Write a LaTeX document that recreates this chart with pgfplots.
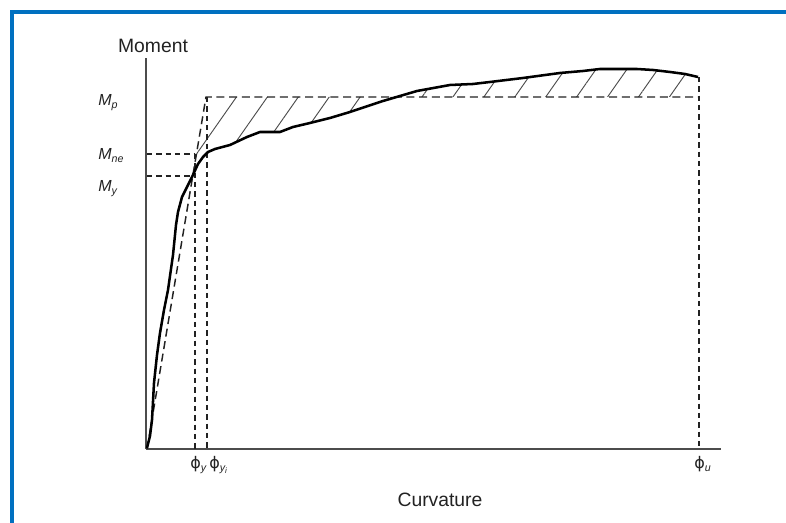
\documentclass[border=0pt]{standalone}
\usepackage{fontspec}
\setmainfont{Liberation Sans}
\newfontfamily\phifont{DejaVu Sans}
\usepackage{pgfplots}
\pgfplotsset{compat=1.18}
\usepgfplotslibrary{fillbetween}
\usetikzlibrary{patterns.meta}
\definecolor{frameblue}{HTML}{0070C0}
\definecolor{ink}{HTML}{222222}
\begin{document}
\begin{tikzpicture}
\begin{axis}[
  scale only axis, width=431.25pt, height=293.25pt,
  xmin=146, xmax=721, ymin=74, ymax=465,
  enlargelimits=false,
  axis x line=bottom, axis y line=left,
  axis line style={-, draw=black!70, line width=1.1pt},
  xtick=\empty, ytick=\empty,
  clip=false,
]
% hatched area between curve and bilinear idealisation
\addplot[name path=curve, draw=none, forget plot] coordinates {
(147,75)(150,87)(152,103)(154,140)(157,168)(160,190)(164,213)(168,233)
(173,268)(176,298)(178,311)(182,326)(187,336)(192,346)(198,359)(203,366)
(208,371)(215,374)(230,378)(247,386)(260,391)(280,391)(293,396)(310,400)
(330,405)(350,411)(383,422)(400,427)(417,432)(450,438)(473,439)(490,441)
(523,445)(560,450)(583,452)(600,454)(637,454)(653,453)(670,451)(685,449)(698,446)};
\addplot[name path=bilin, draw=none, forget plot] coordinates {(147,74)(206,426)(699,426)};
\addplot[pattern={Lines[angle=55,distance=19pt,line width=0.7pt]}, pattern color=black!70, draw=none]
  fill between[of=curve and bilin, soft clip={domain=193:699}];
% reference dashed lines
\addplot[ink, line width=1pt, dash pattern=on 4pt off 3pt] coordinates {(147,369)(195,369)};
\addplot[ink, line width=1pt, dash pattern=on 4pt off 3pt] coordinates {(147,347)(193,347)};
\addplot[ink, line width=1pt, dash pattern=on 4pt off 3pt] coordinates {(195,369)(195,74)};
\addplot[ink, line width=1pt, dash pattern=on 4pt off 3pt] coordinates {(207,426)(207,74)};
\addplot[ink, line width=1pt, dash pattern=on 4pt off 3pt] coordinates {(699,446)(699,74)};
% bilinear dashed
\addplot[ink, line width=1.1pt, dash pattern=on 6pt off 3.5pt] coordinates {(147,74)(206,426)(699,426)};
% moment-curvature curve
\addplot[black, line width=1.9pt, line join=round] coordinates {
(147,75)(150,87)(152,103)(154,140)(157,168)(160,190)(164,213)(168,233)
(173,268)(176,298)(178,311)(182,326)(187,336)(192,346)(198,359)(203,366)
(208,371)(215,374)(230,378)(247,386)(260,391)(280,391)(293,396)(310,400)
(330,405)(350,411)(383,422)(400,427)(417,432)(450,438)(473,439)(490,441)
(523,445)(560,450)(583,452)(600,454)(637,454)(653,453)(670,451)(685,449)(698,446)};
% labels
\node[text=ink, font=\fontsize{14.5}{17}\selectfont] at (axis cs:153,477) {Moment};
\node[text=ink, font=\fontsize{14.5}{17}\selectfont] at (axis cs:440,23) {Curvature};
\node[text=ink, anchor=base west, inner sep=0pt, font=\fontsize{12}{14}\selectfont\itshape] at (axis cs:98,417) {M\textsubscript{p}};
\node[text=ink, anchor=base west, inner sep=0pt, font=\fontsize{12}{14}\selectfont\itshape] at (axis cs:98,363) {M\textsubscript{ne}};
\node[text=ink, anchor=base west, inner sep=0pt, font=\fontsize{12}{14}\selectfont\itshape] at (axis cs:98,331) {M\textsubscript{y}};
\node[text=ink, anchor=base west, font=\fontsize{12}{14}\selectfont, inner sep=0pt] at (axis cs:190,54) {{\phifont ϕ}\textsubscript{\itshape y}};
\node[text=ink, anchor=base west, font=\fontsize{12}{14}\selectfont, inner sep=0pt] at (axis cs:209,54) {{\phifont ϕ}\textsubscript{\itshape y\textsubscript{i}}};
\node[text=ink, anchor=base west, font=\fontsize{12}{14}\selectfont, inner sep=0pt] at (axis cs:694,54) {{\phifont ϕ}\textsubscript{\itshape u}};
% frame
\draw[frameblue, line width=3pt, line cap=rect, line join=miter] (axis cs:12.5,-5) -- (axis cs:12.5,511) -- (axis cs:800,511);
\coordinate (bl) at (axis cs:0,0);
\coordinate (tr) at (axis cs:786,523);
\end{axis}
\pgfresetboundingbox
\path[use as bounding box] (bl) rectangle (tr);
\end{tikzpicture}
\end{document}
